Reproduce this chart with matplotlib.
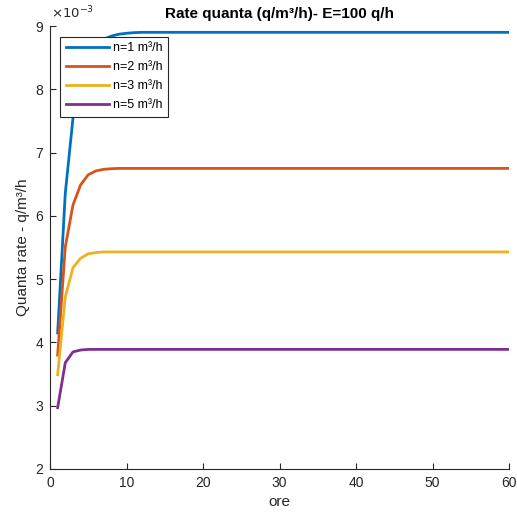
import matplotlib.pyplot as plt

plt.rcParams['font.family'] = ['Liberation Sans', 'DejaVu Sans']

# hours
ore = list(range(1, 61))

rate_n1 = [4.15, 6.36, 7.54, 8.17, 8.51, 8.70, 8.79, 8.84, 8.87, 8.885, 8.895] + [8.9] * 49
rate_n2 = [3.80, 5.51, 6.17, 6.49, 6.65, 6.71, 6.735, 6.745] + [6.75] * 52
rate_n3 = [3.49, 4.72, 5.18, 5.33, 5.40, 5.42] + [5.43] * 54
rate_n5 = [2.97, 3.68, 3.85, 3.88] + [3.89] * 56

labels = ['n=1 m³/h', 'n=2 m³/h', 'n=3 m³/h', 'n=5 m³/h']
colors = ['#0072BD', '#D95319', '#EDB120', '#7E2F8E']

fig = plt.figure(figsize=(5.17, 5.16), dpi=100)
ax = fig.add_axes([50 / 517, 47 / 516, 459 / 517, 443 / 516])

for serie, lab, col in zip([rate_n1, rate_n2, rate_n3, rate_n5], labels, colors):
    ax.plot(ore, serie, color=col, lw=2.0, label=lab)

ax.set_xlim(0, 60)
ax.set_ylim(2, 9)
ax.set_xticks(range(0, 61, 10))
ax.set_yticks(range(2, 10))

for s in ['top', 'right']:
    ax.spines[s].set_visible(False)
for s in ['left', 'bottom']:
    ax.spines[s].set_color('#262626')
    ax.spines[s].set_linewidth(0.8)
ax.tick_params(direction='in', length=4, colors='#262626', labelsize=10, width=0.8, pad=5)

ax.text(0.002, 1.01, r'$\times10^{-3}$', transform=ax.transAxes, fontsize=9.5,
        color='#262626', ha='left', va='bottom')

ax.set_title('Rate quanta (q/m³/h)- E=100 q/h', fontsize=11, fontweight='bold', pad=6)
ax.set_xlabel('ore', fontsize=11, color='#262626')
ax.set_ylabel('Quanta rate - q/m³/h', fontsize=11, color='#262626')

leg = ax.legend(loc='upper left', bbox_to_anchor=(0.022, 0.976), fontsize=9,
                fancybox=False, framealpha=1, edgecolor='#262626',
                handlelength=3.5, borderpad=0.45, labelspacing=0.55,
                handletextpad=0.3, borderaxespad=0)
leg.get_frame().set_linewidth(0.8)

fig.savefig('out.png', dpi=100)
